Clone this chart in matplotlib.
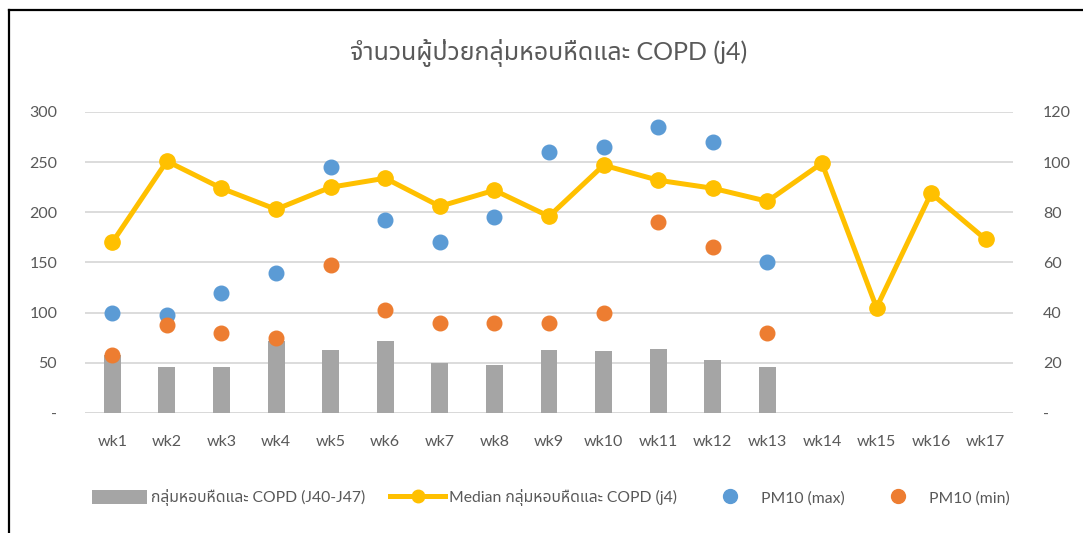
import matplotlib
matplotlib.use("Agg")
import matplotlib.pyplot as plt
from matplotlib import font_manager
from matplotlib.ft2font import FT2Font
from matplotlib.lines import Line2D
from matplotlib.patches import Patch

# ---------------- data ----------------
weeks = [f"wk{i}" for i in range(1, 18)]
patients = [58, 46, 46, 72, 63, 72, 50, 48, 63, 62, 64, 53, 46]          # bars (left axis)
median_j4 = [170, 251, 224, 203, 225, 234, 206, 222, 196, 247, 232, 224, 211,
             249, 105, 219, 173]                                          # line (left axis)
pm10_max = [40, 39, 48, 56, 98, 77, 68, 78, 104, 106, 114, 108, 60]      # right axis
pm10_min = [23, 35, 32, 30, 59, 41, 36, 36, 36, 40, 76, 66, 32]          # right axis
left_ticks = [0, 50, 100, 150, 200, 250, 300]
right_ticks = [0, 20, 40, 60, 80, 100, 120]

title = "จำนวนผู้ป่วยกลุ่มหอบหืดและ COPD (j4)"
lab_bar = "กลุ่มหอบหืดและ COPD (J40-J47)"
lab_line = "Median กลุ่มหอบหืดและ COPD (j4)"
lab_max = "PM10 (max)"
lab_min = "PM10 (min)"

# ---------------- fonts ----------------
def find_thai():
    pref = ["Noto Sans Thai", "Noto Sans Thai UI", "Loma", "Garuda", "Norasi",
            "TlwgTypo", "Kinnari", "Waree", "Sarabun", "Tahoma"]
    found = []
    for f in font_manager.fontManager.ttflist:
        try:
            ft = FT2Font(f.fname)
            if ft.get_char_index(0x0E01) and ft.get_char_index(0x0E2B):
                found.append(f.name)
        except Exception:
            pass
    for p in pref:
        if p in found:
            return p
    return found[0] if found else None

thai = find_thai()
fams = ["Lato"]
if thai:
    fams.append(thai)
fams += ["DejaVu Sans"]
plt.rcParams["font.family"] = fams

TXT = "#595959"
GRID = "#D9D9D9"

W, H = 1083, 533
fig = plt.figure(figsize=(W / 100, H / 100), dpi=100)
ax = fig.add_axes([85 / W, (H - 413) / H, (1013 - 85) / W, (413 - 112) / H])
ax2 = ax.twinx()

x = list(range(len(weeks)))
ax.bar(x[:len(patients)], patients, width=0.31, color="#A5A5A5", zorder=2)
ax.plot(x, median_j4, color="#FFC000", lw=3.6, marker="o", ms=11, zorder=3,
        solid_joinstyle="round")
ax2.plot(x[:len(pm10_max)], pm10_max, ls="none", marker="o", ms=10.5,
         color="#5B9BD5", zorder=4)
ax2.plot(x[:len(pm10_min)], pm10_min, ls="none", marker="o", ms=10.5,
         color="#ED7D31", zorder=5)

ax.set_xlim(-0.5, len(weeks) - 0.5)
ax.set_ylim(0, 300)
ax2.set_ylim(0, 120)
ax.set_yticks(left_ticks)
ax.set_yticklabels(["-" if v == 0 else str(v) for v in left_ticks])
ax2.set_yticks(right_ticks)
ax2.set_yticklabels(["-" if v == 0 else str(v) for v in right_ticks])
ax.set_xticks(x)
ax.set_xticklabels(weeks)

ax.grid(axis="y", color=GRID, lw=1.3, zorder=0)
ax.set_axisbelow(True)
for a in (ax, ax2):
    for s in a.spines.values():
        s.set_visible(False)
ax.tick_params(axis="both", length=0, colors=TXT, labelsize=11.5)
ax.tick_params(axis="y", pad=20)
ax.tick_params(axis="x", pad=16)
ax2.tick_params(axis="y", length=0, colors=TXT, labelsize=11.5, pad=21.5)
ax.axhline(0, color=GRID, lw=1.3, zorder=1)

fig.text(549 / W, 1 - 53 / H, title, ha="center", va="center", fontsize=18,
         color=TXT)

handles = [
    Patch(facecolor="#A5A5A5", edgecolor="none"),
    Line2D([], [], color="#FFC000", lw=3.6, marker="o", ms=9),
    Line2D([], [], ls="none", color="#5B9BD5", marker="o", ms=10),
    Line2D([], [], ls="none", color="#ED7D31", marker="o", ms=10),
]
fig.legend(handles, [lab_bar, lab_line, lab_max, lab_min], loc="center",
           bbox_to_anchor=(551 / W, 1 - 498 / H), ncol=4, frameon=False,
           fontsize=11.3, labelcolor=TXT, handlelength=3.5, handleheight=1.0,
           handletextpad=0.25, columnspacing=1.6)

# chart frame (left and top edges visible)
fig.add_artist(Line2D([8.5 / W, 8.5 / W], [0, 1 - 10 / H], color="black", lw=1.6,
                      transform=fig.transFigure))
fig.add_artist(Line2D([8.5 / W, 1], [1 - 10 / H, 1 - 10 / H], color="black", lw=1.6,
                      transform=fig.transFigure))

fig.savefig("out.png", dpi=100)
